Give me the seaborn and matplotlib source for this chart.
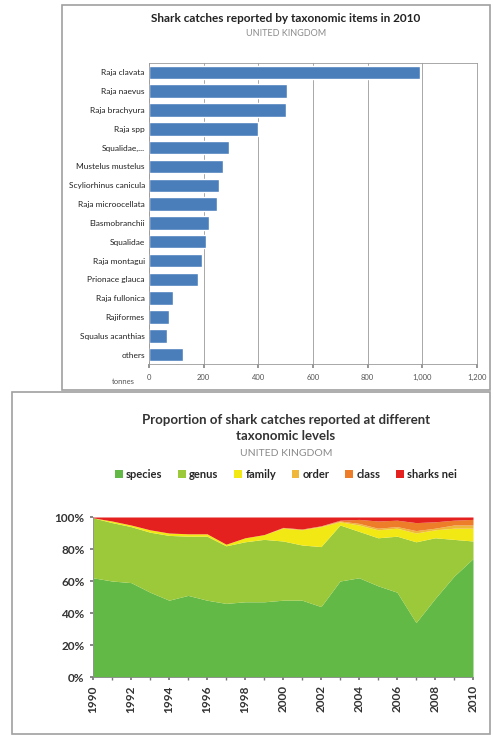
import numpy as np
import pandas as pd
import matplotlib
matplotlib.use("Agg")
import matplotlib.pyplot as plt
from matplotlib.patches import Rectangle
import seaborn as sns

# Data: top chart (tonnes, 2010)
taxa = ["Raja clavata", "Raja naevus", "Raja brachyura", "Raja spp", "Squalidae,...",
        "Mustelus mustelus", "Scyliorhinus canicula", "Raja microocellata",
        "Elasmobranchii", "Squalidae", "Raja montagui", "Prionace glauca",
        "Raja fullonica", "Rajiformes", "Squalus acanthias", "others"]
tonnes = [990, 505, 500, 397, 293, 271, 256, 249, 220, 208, 193, 180, 88, 73, 66, 124]
x_ticks = [0, 200, 400, 600, 800, 1000, 1200]
x_tick_labels = ["0", "200", "400", "600", "800", "1,000", "1,200"]

# Data: bottom chart (% of catches)
years = list(range(1990, 2011))
species = [62, 60, 59, 53, 48, 51, 48, 46, 47, 47, 48, 48, 44, 60, 62, 57, 53, 34, 49, 63, 74]
genus = [37.5, 36.5, 35, 37.5, 40.5, 37, 40, 36, 37.5, 39, 37, 34.5, 37.5, 35, 29, 30, 35, 50.5, 38, 23, 11]
family = [0, 1, 1, 1.5, 1.5, 1.5, 1.5, 1, 2.5, 3, 8, 9.5, 12.5, 2, 4, 5, 5, 5.5, 5, 7, 8]
order = [0, 0, 0, 0, 0, 0, 0, 0, 0, 0, 0.5, 0.5, 0.5, 0.5, 1, 1, 1, 1.5, 1, 2, 2]
klass = [0, 0, 0, 0, 0, 0, 0, 0, 0, 0, 0, 0, 0, 0.5, 2.5, 4.5, 4, 5, 4, 3, 3.5]
sharks_nei = [0.5, 2.5, 5, 8, 10, 10.5, 10.5, 17, 13, 11, 6.5, 7.5, 5.5, 2, 1.5, 2.5, 2, 3.5, 3, 2, 1.5]
level_names = ["species", "genus", "family", "order", "class", "sharks nei"]
level_colors = ["#62b946", "#9cc93a", "#f2e914", "#f0b83a", "#ee7d2a", "#e4211f"]

W, H = 493, 738
sns.set_theme(style="white")
plt.rcParams['font.family'] = ['Lato', 'DejaVu Sans']

fig = plt.figure(figsize=(W / 100, H / 100), dpi=100)


def box(x0, y0, x1, y1):
    # pixel box -> figure fraction
    return [x0 / W, 1 - y1 / H, (x1 - x0) / W, (y1 - y0) / H]


# panel frames
for (x0, y0, x1, y1) in [(62, 5, 490, 390), (12, 392, 490, 734)]:
    fig.add_artist(Rectangle((x0 / W, 1 - y1 / H), (x1 - x0) / W, (y1 - y0) / H,
                             transform=fig.transFigure, fill=False,
                             edgecolor="#a0a0a0", linewidth=1.2))

# ---- top: horizontal bars
ax1 = fig.add_axes(box(149, 63, 477, 364))
df = pd.DataFrame({"taxon": taxa, "tonnes": tonnes})
sns.barplot(data=df, x="tonnes", y="taxon", orient="h", color="#4a7ebb",
            saturation=1, width=0.72, ax=ax1)
ax1.set_xlim(0, 1200)
ax1.set_xticks(x_ticks)
ax1.set_xticklabels(x_tick_labels, fontsize=5.5, color="#555555")
ax1.tick_params(axis="y", labelsize=6, colors="#222222", length=0, pad=3)
ax1.tick_params(axis="x", length=3, color="#888888", pad=4, bottom=True)
ax1.xaxis.grid(True, color="#9a9a9a", linewidth=0.6)
ax1.set_axisbelow(True)
ax1.set_xlabel("")
ax1.set_ylabel("")
for s in ax1.spines.values():
    s.set_color("#9a9a9a")
    s.set_linewidth(0.6)
ax1.text(-0.045, -0.058, "tonnes", transform=ax1.transAxes, fontsize=5.5,
         color="#555555", ha="right", va="center")
fig.text(0.58, 1 - 19 / H, "Shark catches reported by taxonomic items in 2010",
         ha="center", va="center", fontsize=8.5, fontweight="bold", color="#222222")
fig.text(0.58, 1 - 34 / H, "UNITED KINGDOM", ha="center", va="center",
         fontsize=6.5, color="#8a8a8a")

# ---- bottom: stacked area
ax2 = fig.add_axes(box(93, 517, 473, 677))
ax2.stackplot(years, species, genus, family, order, klass, sharks_nei,
              colors=level_colors, labels=level_names, linewidth=0)
ax2.set_xlim(1990, 2010)
ax2.set_ylim(0, 100)
ax2.set_yticks([0, 20, 40, 60, 80, 100])
ax2.set_yticklabels(["0%", "20%", "40%", "60%", "80%", "100%"], fontsize=8.5,
                    color="#333333", fontweight="bold")
ax2.set_xticks(years, minor=True)
ax2.set_xticks(years[::2])
ax2.set_xticklabels([str(y) for y in years[::2]], rotation=90, fontsize=8.5,
                    color="#333333", fontweight="bold")
ax2.tick_params(axis="both", which="both", length=2.5, color="#777777",
                left=True, bottom=True)
for s in ["top", "right"]:
    ax2.spines[s].set_visible(False)
for s in ["left", "bottom"]:
    ax2.spines[s].set_color("#888888")
    ax2.spines[s].set_linewidth(0.6)

fig.text(0.58, 1 - 428 / H, "Proportion of shark catches reported at different\ntaxonomic levels",
         ha="center", va="center", fontsize=9.5, fontweight="bold", color="#333333",
         linespacing=1.4)
fig.text(0.58, 1 - 454 / H, "UNITED KINGDOM", ha="center", va="center",
         fontsize=7.5, color="#8a8a8a")
fig.legend(*ax2.get_legend_handles_labels(), loc="center", ncol=6,
           bbox_to_anchor=(0.58, 1 - 474 / H), frameon=False,
           handlelength=0.7, handleheight=0.7, handletextpad=0.3, columnspacing=1.4,
           prop={"weight": "bold", "size": 8})

fig.savefig("out.png", dpi=100)
